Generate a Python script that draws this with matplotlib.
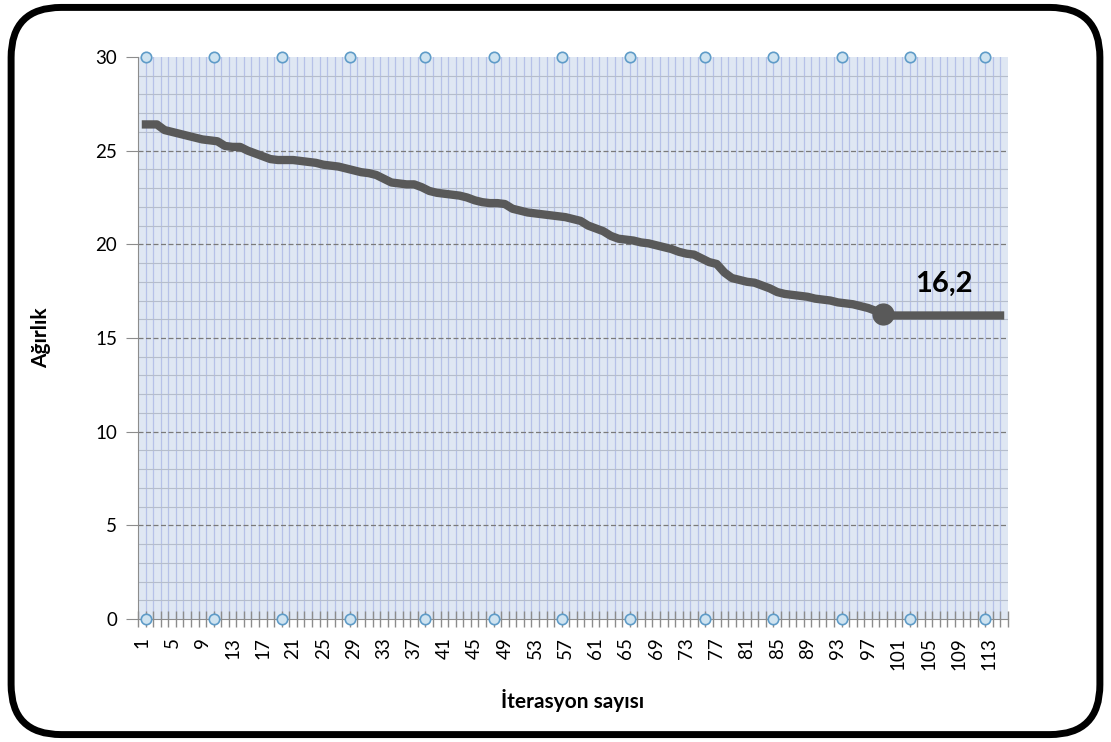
import numpy as np
import matplotlib
matplotlib.use('Agg')
import matplotlib.pyplot as plt
from matplotlib.patches import FancyBboxPatch

plt.rcParams['font.family'] = ['Lato', 'DejaVu Sans']

# iteration -> weight
iterations = list(range(1, 116))
weights = [
    26.4, 26.4, 26.4, 26.1, 26.0, 25.9, 25.8, 25.7, 25.6, 25.55,
    25.5, 25.25, 25.2, 25.2, 25.0, 24.85, 24.7, 24.55, 24.5, 24.5,
    24.5, 24.45, 24.4, 24.35, 24.25, 24.2, 24.15, 24.05, 23.95, 23.85,
    23.8, 23.7, 23.5, 23.3, 23.25, 23.2, 23.2, 23.05, 22.85, 22.75,
    22.7, 22.65, 22.6, 22.5, 22.35, 22.25, 22.2, 22.2, 22.15, 21.9,
    21.8, 21.7, 21.65, 21.6, 21.55, 21.5, 21.45, 21.35, 21.25, 21.0,
    20.85, 20.7, 20.45, 20.3, 20.25, 20.2, 20.1, 20.05, 19.95, 19.85,
    19.75, 19.6, 19.5, 19.45, 19.25, 19.05, 18.95, 18.5, 18.2, 18.1,
    18.0, 17.95, 17.8, 17.65, 17.45, 17.35, 17.3, 17.25, 17.2, 17.1,
    17.05, 17.0, 16.9, 16.85, 16.8, 16.7, 16.6, 16.45, 16.3, 16.2,
    16.2, 16.2, 16.2, 16.2, 16.2, 16.2, 16.2, 16.2, 16.2, 16.2,
    16.2, 16.2, 16.2, 16.2, 16.2,
]
best_iter = 99
best_value = 16.3
best_label = '16,2'

# small circle markers sitting on the top and bottom of the plot
circle_x = [1.5, 10.5, 19.5, 28.5, 38.5, 47.5, 56.5, 65.5, 75.5, 84.5, 93.5, 102.5, 112.5]
circle_levels = [0, 30]

xtick_labels = list(range(1, 116, 4))

fig = plt.figure(figsize=(11.11, 7.42), dpi=100)
ax = fig.add_axes([0.1242, 0.1658, 0.7831, 0.7574])
ax.set_facecolor('#dfe7f3')

n = len(iterations)
ax.set_xlim(0.5, n + 0.5)
ax.set_ylim(0, 30)

# grid: vertical lines at each category boundary, horizontal every 1 unit
for b in np.arange(1.5, n + 0.5, 1):
    ax.axvline(b, color='#b6c1e8', lw=0.9, zorder=1)
for yv in range(1, 30):
    if yv % 5 == 0:
        ax.axhline(yv, color='#7a7a7a', lw=0.9, ls=(0, (4, 2)), zorder=1.2)
    else:
        ax.axhline(yv, color='#b5bdcc', lw=0.8, zorder=1.1)

ax.plot(iterations, weights, color='#595959', lw=6, solid_capstyle='butt',
        solid_joinstyle='round', zorder=3)
ax.plot(best_iter, best_value, 'o', color='#595959', ms=15, zorder=4)
ax.annotate(best_label, (best_iter, best_value), xytext=(44, 12),
            textcoords='offset points', ha='center', va='bottom',
            fontsize=21, fontweight='bold', color='black', zorder=5)

for lvl in circle_levels:
    ax.plot(circle_x, [lvl] * len(circle_x), 'o', ms=7.5, mfc='#cfe3f0',
            mec='#5f9cc8', mew=1.2, ls='none', clip_on=False, zorder=6)

# axes styling
for s in ['top', 'right']:
    ax.spines[s].set_visible(False)
ax.spines['left'].set_color('#8c8c8c')
ax.spines['bottom'].set_color('#8c8c8c')

ax.set_yticks(range(0, 31, 5))
ax.tick_params(axis='y', length=9, color='#8c8c8c', labelsize=13.5, pad=6)

ax.set_xticks(np.arange(0.5, n + 1, 1))
ax.set_xticklabels([])
ax.tick_params(axis='x', which='major', direction='inout', length=12,
               color='#8c8c8c', width=1)
ax.set_xticks(xtick_labels, [str(v) for v in xtick_labels], minor=True)
ax.tick_params(axis='x', which='minor', length=0, labelsize=13.5,
               labelrotation=90, pad=13)

ax.set_ylabel('Ağırlık', fontsize=15, fontweight='bold', labelpad=32)
ax.set_xlabel('İterasyon sayısı', fontsize=15, fontweight='bold', labelpad=14)

# rounded black frame around the whole picture
frame = FancyBboxPatch((0.01, 0.01), 0.98, 0.98,
                       boxstyle='round,pad=0,rounding_size=0.045',
                       transform=fig.transFigure, fill=False,
                       ec='black', lw=5, mutation_aspect=1111 / 742)
fig.patches.append(frame)

fig.savefig('out.png', dpi=100)
